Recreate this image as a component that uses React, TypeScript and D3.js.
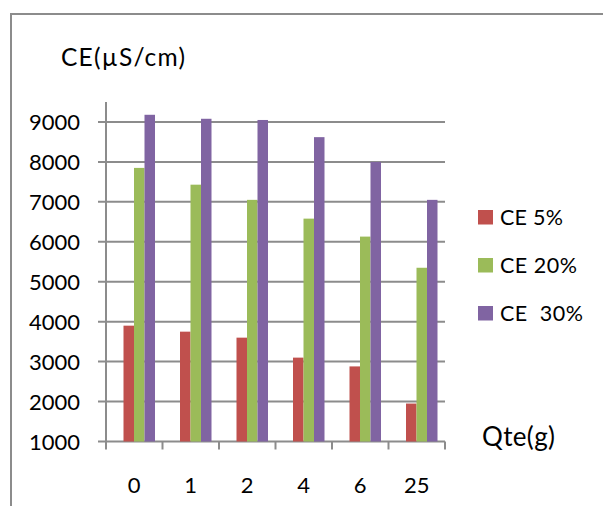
import React from "react";
import * as d3 from "d3";

// Conductivity (µS/cm) by quantity added, for three concentrations
const categories = ["0", "1", "2", "4", "6", "25"];
const seriesNames = ["CE 5%", "CE 20%", "CE  30%"];
const ce5 = [3900, 3750, 3600, 3100, 2880, 1950];
const ce20 = [7850, 7430, 7050, 6580, 6130, 5350];
const ce30 = [9180, 9080, 9050, 8620, 8000, 7050];
const yTicks = [1000, 2000, 3000, 4000, 5000, 6000, 7000, 8000, 9000];
const colors = ["#C0504D", "#9BBB59", "#8064A2"];

const W = 603;
const H = 506;
const FONT = "Lato, 'Open Sans', sans-serif";

// rendered widths of the wider text runs
const legendWidths = [63, 77, 83];

export default function App() {
  const series = [ce5, ce20, ce30];

  const y = d3.scaleLinear().domain([1000, 9500]).range([441.5, 102]);
  const x = d3.scaleBand<string>().domain(categories).range([106, 445]).padding(0);
  const bw = x.bandwidth();
  // bars sit slightly right of band centre
  const inner = d3
    .scaleBand<number>()
    .domain([0, 1, 2])
    .range([17.5, 17.5 + 31.5])
    .padding(0);

  const axisColor = "#8c8c8c";
  const y0 = y(1000);

  return (
    <svg
      width={W}
      height={H}
      style={{ position: "absolute", left: 0, top: 0, background: "#fff" }}
      fontFamily={FONT}
    >
      <rect x={0} y={0} width={W} height={H} fill="#fff" />
      {/* outer frame: top and left edges */}
      <line x1={10} x2={W} y1={14} y2={14} stroke={axisColor} strokeWidth={2} />
      <line x1={11} x2={11} y1={14} y2={H} stroke={axisColor} strokeWidth={2} />

      {/* gridlines */}
      {yTicks.map((t) => (
        <line
          key={"g" + t}
          x1={98}
          x2={445}
          y1={y(t)}
          y2={y(t)}
          stroke={axisColor}
          strokeWidth={2}
        />
      ))}

      {/* bars */}
      {series.map((vals, si) =>
        vals.map((v, ci) => (
          <rect
            key={`b${si}-${ci}`}
            x={(x(categories[ci]) as number) + (inner(si) as number)}
            y={y(v)}
            width={inner.bandwidth()}
            height={y0 - y(v)}
            fill={colors[si]}
          />
        ))
      )}

      {/* y axis */}
      <line x1={106} x2={106} y1={y(9500)} y2={y0} stroke={axisColor} strokeWidth={2} />
      {yTicks.map((t) => (
        <text
          key={"yt" + t}
          x={80}
          y={y(t)}
          textAnchor="end"
          dominantBaseline="central"
          fontSize={22}
          fill="#000"
        >
          {t}
        </text>
      ))}

      {/* x axis ticks and labels */}
      {d3.range(categories.length + 1).map((i) => {
        const px = 106 + i * bw;
        return (
          <line key={"xt" + i} x1={px} x2={px} y1={y0} y2={y0 + 8} stroke={axisColor} strokeWidth={2} />
        );
      })}
      {categories.map((c) => (
        <text
          key={"xl" + c}
          x={(x(c) as number) + bw / 2}
          y={493}
          textAnchor="middle"
          fontSize={22}
          fill="#000"
        >
          {c}
        </text>
      ))}

      {/* axis titles */}
      <text x={61} y={66} fontSize={24.5} fill="#000" textLength={124} lengthAdjust="spacing">
        CE(µS/cm)
      </text>
      <text x={482} y={446} fontSize={26} fill="#000" textLength={73} lengthAdjust="spacing">
        Qte(g)
      </text>

      {/* legend */}
      {seriesNames.map((name, i) => (
        <g key={"lg" + i} transform={`translate(478, ${210 + i * 48})`}>
          <rect x={0} y={0} width={15} height={14.5} fill={colors[i]} />
          <text
            x={22}
            y={15}
            fontSize={21.5}
            fill="#000"
            style={{ whiteSpace: "pre" }}
            textLength={legendWidths[i]}
            lengthAdjust="spacing"
          >
            {name}
          </text>
        </g>
      ))}
    </svg>
  );
}
